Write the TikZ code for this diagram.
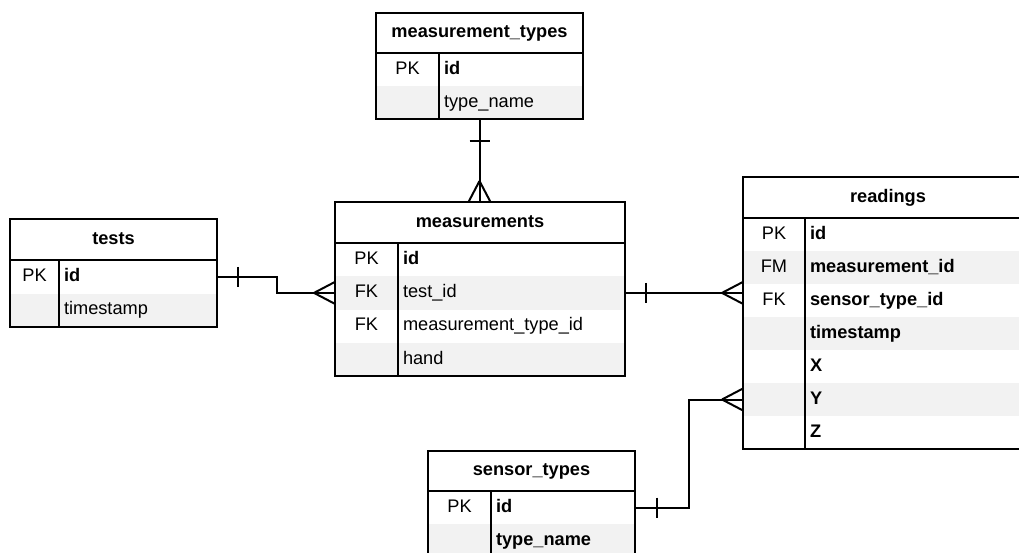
\documentclass[tikz,border=0pt]{standalone}
\usepackage{fontspec}
\setmainfont{Liberation Sans}
\definecolor{rowgray}{HTML}{F2F2F2}
\newcommand{\erfs}{\fontsize{18.2}{22}\selectfont}
\begin{document}
\begin{tikzpicture}[x=1pt,y=-1pt,
  every node/.style={inner sep=0pt, outer sep=0pt, text height=13pt, text depth=3.6pt, font=\erfs},
  tbox/.style={draw=black, line width=2pt, anchor=north west, text height=, text depth=},
  tline/.style={draw=black, line width=2pt},
  hdr/.style={font=\erfs\bfseries},
  keyc/.style={font=\erfs},
  fld/.style={anchor=west, font=\erfs},
  bfld/.style={anchor=west, font=\erfs\bfseries},
  conn/.style={draw=black, line width=2pt}]
\useasboundingbox (0,0) rectangle (1019,553);
\clip (0,0) rectangle (1019,553);

% ---------------- measurement_types
\fill[rowgray] (376,86) rectangle (583,119);
\node[tbox, minimum width=207pt, minimum height=106pt] (mt) at (376,13) {};
\draw[tline] (376,53) -- (583,53) (439,53) -- (439,119);
\node[hdr] (mt-h) at (479.5,33) {measurement\_types};
\node[keyc] (mt-k1) at (407.5,69.5) {PK};
\node[bfld] (mt-id) at (444,69.5) {id};
\node[fld] (mt-tn) at (444,102.5) {type\_name};

% ---------------- tests
\fill[rowgray] (10,293.5) rectangle (217,327);
\node[tbox, minimum width=207pt, minimum height=108pt] (tests) at (10,219) {};
\draw[tline] (10,260) -- (217,260) (59,260) -- (59,327);
\node[hdr] (t-h) at (113.5,239.5) {tests};
\node[keyc] (t-k1) at (34.5,276.75) {PK};
\node[bfld] (t-id) at (64,276.75) {id};
\node[fld] (t-ts) at (64,310.25) {timestamp};

% ---------------- measurements
\fill[rowgray] (335,276.25) rectangle (625,309.5);
\fill[rowgray] (335,342.75) rectangle (625,376);
\node[tbox, minimum width=290pt, minimum height=174pt] (meas) at (335,202) {};
\draw[tline] (335,243) -- (625,243) (398,243) -- (398,376);
\node[hdr] (m-h) at (480,222.5) {measurements};
\node[keyc] (m-k1) at (366.5,259.6) {PK};
\node[keyc] (m-k2) at (366.5,292.9) {FK};
\node[keyc] (m-k3) at (366.5,326.1) {FK};
\node[bfld] (m-id) at (403,259.6) {id};
\node[fld] (m-tid) at (403,292.9) {test\_id};
\node[fld] (m-mtid) at (403,326.1) {measurement\_type\_id};
\node[fld] (m-hand) at (403,359.4) {hand};

% ---------------- readings
\fill[rowgray] (743,251) rectangle (1033,284);
\fill[rowgray] (743,317) rectangle (1033,350);
\fill[rowgray] (743,383) rectangle (1033,416);
\node[tbox, minimum width=290pt, minimum height=272pt] (read) at (743,177) {};
\draw[tline] (743,218) -- (1033,218) (805,218) -- (805,449);
\node[hdr] (r-h) at (888,197.5) {readings};
\node[keyc] (r-k1) at (774,234.5) {PK};
\node[keyc] (r-k2) at (774,267.5) {FM};
\node[keyc] (r-k3) at (774,300.5) {FK};
\node[bfld] (r-id) at (810,234.5) {id};
\node[bfld] (r-mid) at (810,267.5) {measurement\_id};
\node[bfld] (r-stid) at (810,300.5) {sensor\_type\_id};
\node[bfld] (r-ts) at (810,333.5) {timestamp};
\node[bfld] (r-x) at (810,366.5) {X};
\node[bfld] (r-y) at (810,399.5) {Y};
\node[bfld] (r-z) at (810,432.5) {Z};

% ---------------- sensor_types
\fill[rowgray] (428,524) rectangle (635,557);
\node[tbox, minimum width=207pt, minimum height=106pt] (st) at (428,451) {};
\draw[tline] (428,491) -- (635,491) (491,491) -- (491,557);
\node[hdr] (st-h) at (531.5,471) {sensor\_types};
\node[keyc] (st-k1) at (459.5,507.5) {PK};
\node[bfld] (st-id) at (496,507.5) {id};
\node[bfld] (st-tn) at (496,540.5) {type\_name};

% ---------------- connectors
% measurement_types -> measurements
\draw[conn] (mt.south) -- (mt.south |- meas.north);
\draw[conn] (mt.south) ++(-10,22) -- ++(20,0);
\draw[conn] (mt.south |- meas.north) ++(0,-21) -- ++(-11,21) ++(11,-21) -- ++(11,21);

% tests -> measurements
\draw[conn] (tests.east |- t-id) -- ++(60,0) |- (meas.west |- m-tid);
\draw[conn] (tests.east |- t-id) ++(21,-10) -- ++(0,20);
\draw[conn] (meas.west |- m-tid) ++(-21,0) -- ++(21,-11) ++(-21,11) -- ++(21,11);

% measurements -> readings
\draw[conn] (meas.east |- m-tid) -- (read.west |- m-tid);
\draw[conn] (meas.east |- m-tid) ++(21,-10) -- ++(0,20);
\draw[conn] (read.west |- m-tid) ++(-21,0) -- ++(21,-11) ++(-21,11) -- ++(21,11);

% sensor_types -> readings
\draw[conn] (st.east |- st-id) -- ++(54,0) |- (read.west |- r-y);
\draw[conn] (st.east |- st-id) ++(22,-10) -- ++(0,20);
\draw[conn] (read.west |- r-y) ++(-21,0) -- ++(21,-11) ++(-21,11) -- ++(21,11);
\end{tikzpicture}
\end{document}
